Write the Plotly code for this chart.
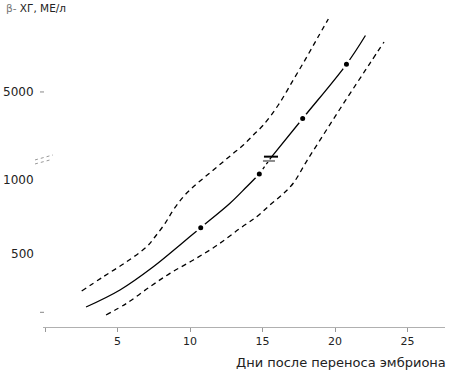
import numpy as np
import plotly.graph_objects as go

# ---- data (β-hCG, IU/L, vs days after embryo transfer) ----
median_days = [2.83, 5.17, 7.47, 9.31, 10.74, 12.76, 13.91, 14.78, 15.57, 17.77, 20.79, 22.10]
median_hcg = [136, 252, 410, 558, 676, 842, 954, 1041, 1150, 3452, 6614, 8294]

measured_days = [10.74, 14.78, 17.77, 20.79]
measured_hcg = [676, 1041, 3452, 6614]

upper_days = [2.53, 4.02, 5.63, 7.01, 7.59, 8.28, 8.85, 9.54, 10.23, 10.92, 11.61,
              12.30, 12.99, 13.68, 14.37, 15.06, 16.09, 17.12, 18.05, 18.83, 19.54]
upper_hcg = [245, 342, 444, 546, 614, 705, 796, 886, 954, 1012, 1068,
             1125, 1421, 1905, 2489, 3072, 4239, 5698, 7039, 8206, 9256]

lower_days = [4.21, 5.63, 7.24, 8.62, 10.23, 11.84, 13.45, 14.60, 15.52, 16.41,
              17.12, 18.05, 19.19, 20.34, 21.50, 22.41, 23.38]
lower_hcg = [82, 161, 274, 365, 456, 554, 671, 750, 830, 905,
             978, 1129, 2489, 4006, 5505, 6672, 7915]

x_ticks = [0, 5, 10, 15, 20, 25]
x_ticktext = ["", "5", "10", "15", "20", "25"]
y_label_values = [500, 1000, 5000]
y_dash_values = [100, 5000]

# ---- broken y scale: linear below the break, compressed above ----
BREAK = 1150
K_LOW = 0.147
K_HIGH = 0.01714


def to_axis(v):
    v = np.asarray(v, dtype=float)
    return np.where(v <= BREAK, v * K_LOW, BREAK * K_LOW + (v - BREAK) * K_HIGH)


FONT = "DejaVu Sans"
L, R, T, B = 43, 5, 0, 48
W, H = 450, 375
PW, PH = W - L - R, H - T - B


def px_to_paper_x(px):
    return (px - L) / PW


def py_to_paper_y(py):
    return (H - B - py) / PH


fig = go.Figure()

dash_long = "5px,4px"
ib = 8  # index of break point in median

fig.add_trace(go.Scatter(x=upper_days, y=to_axis(upper_hcg), mode="lines",
                         line=dict(color="black", width=1.3, dash=dash_long, shape="spline"),
                         hoverinfo="skip"))
fig.add_trace(go.Scatter(x=lower_days, y=to_axis(lower_hcg), mode="lines",
                         line=dict(color="black", width=1.3, dash=dash_long, shape="spline"),
                         hoverinfo="skip"))
fig.add_trace(go.Scatter(x=median_days[:ib], y=to_axis(median_hcg[:ib]), mode="lines",
                         line=dict(color="black", width=1.3, shape="spline"), hoverinfo="skip"))
fig.add_trace(go.Scatter(x=median_days[ib - 1:ib + 1], y=to_axis(median_hcg[ib - 1:ib + 1]),
                         mode="lines", line=dict(color="black", width=1.3, dash="3px,3px"),
                         hoverinfo="skip"))
fig.add_trace(go.Scatter(x=median_days[ib:], y=to_axis(median_hcg[ib:]), mode="lines",
                         line=dict(color="black", width=1.3, shape="spline"), hoverinfo="skip"))
fig.add_trace(go.Scatter(x=measured_days, y=to_axis(measured_hcg), mode="markers",
                         marker=dict(color="black", size=8, line=dict(color="white", width=3)),
                         hoverinfo="skip"))

shapes = []
# break marks on the median curve
xb = median_days[ib]
yb = float(to_axis(BREAK))
shapes.append(dict(type="line", xref="x", yref="y", x0=xb - 0.47, x1=xb + 0.5,
                   y0=yb + 1.3, y1=yb + 1.3, line=dict(color="black", width=2)))
shapes.append(dict(type="line", xref="x", yref="y", x0=xb - 0.54, x1=xb + 0.29,
                   y0=yb - 3, y1=yb - 3, line=dict(color="#8a8a8a", width=2)))
# break mark on the y axis
shapes.append(dict(type="line", xref="paper", yref="y", x0=px_to_paper_x(35), x1=px_to_paper_x(53),
                   y0=yb - 2, y1=yb + 3, line=dict(color="#999999", width=1, dash="dot")))
shapes.append(dict(type="line", xref="paper", yref="y", x0=px_to_paper_x(35), x1=px_to_paper_x(50),
                   y0=yb - 6, y1=yb - 2, line=dict(color="#999999", width=1, dash="dot")))
# small y tick dashes
for v in y_dash_values:
    yv = float(to_axis(v))
    shapes.append(dict(type="line", xref="paper", yref="y", x0=px_to_paper_x(40), x1=px_to_paper_x(44),
                       y0=yv, y1=yv, line=dict(color="#888888", width=1)))

annotations = []
for v in y_label_values:
    annotations.append(dict(text=str(v), xref="paper", yref="y", x=px_to_paper_x(36),
                            y=float(to_axis(v)), xanchor="right", yanchor="middle",
                            showarrow=False, font=dict(family=FONT, size=12, color="#222222")))
annotations.append(dict(text="<span style='color:#777'>β-</span> ХГ, МЕ/л", xref="paper", yref="paper",
                        x=px_to_paper_x(4), y=py_to_paper_y(8), xanchor="left", yanchor="middle",
                        showarrow=False, font=dict(family=FONT, size=10.5, color="#222222")))
annotations.append(dict(text="Дни после переноса эмбриона", xref="paper", yref="paper",
                        x=px_to_paper_x(448), y=py_to_paper_y(362), xanchor="right", yanchor="middle",
                        showarrow=False, font=dict(family=FONT, size=13, color="#222222")))

fig.update_layout(
    width=W, height=H,
    margin=dict(l=L, r=R, t=T, b=B),
    paper_bgcolor="white", plot_bgcolor="white",
    showlegend=False,
    shapes=shapes, annotations=annotations,
    xaxis=dict(range=[(L - 45) / 14.5, (W - R - 45) / 14.5], tickvals=x_ticks, ticktext=x_ticktext,
               showline=True, linecolor="#b0b0b0", linewidth=1, ticks="outside", ticklen=4,
               tickcolor="#999999", showgrid=False, zeroline=False,
               tickfont=dict(family=FONT, size=11, color="#222222"), fixedrange=True),
    yaxis=dict(range=[0, H - B - T], visible=False, fixedrange=True),
)

fig.write_html("out.html", config={"displayModeBar": False},
               post_script="document.body.style.margin='0px';document.body.style.overflow='hidden';")
